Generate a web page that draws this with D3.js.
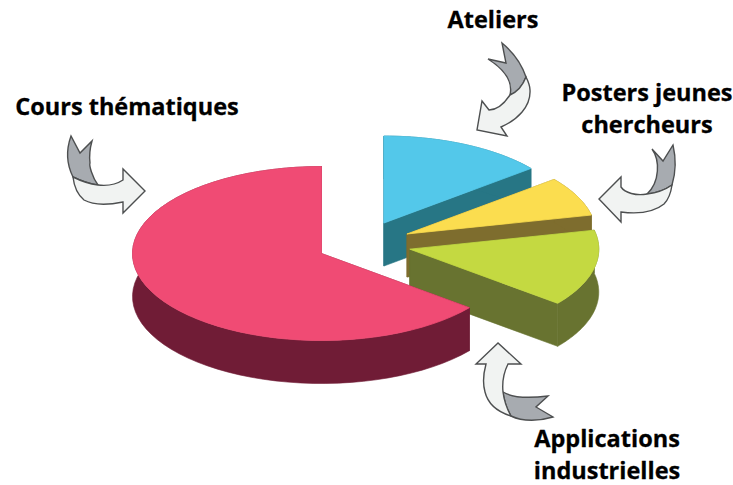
<!DOCTYPE html>
<html>
<head>
<meta charset="utf-8">
<script src="https://cdn.jsdelivr.net/npm/d3@7"></script>
<style>
  html, body { margin: 0; padding: 0; background: #fff; }
  svg { display: block; }
  .label { font-family: "Open Sans", sans-serif; font-weight: 700; font-size: 23.5px; fill: #000; stroke: #000; stroke-width: 0.3; text-anchor: middle; }
  .arrow path { stroke: #4d4f50; stroke-width: 1.4; stroke-linejoin: miter; }
</style>
</head>
<body>
<script>
// share of each slice
var categories = ["Ateliers", "Posters jeunes chercheurs", "Applications industrielles", "Cours thématiques"];
var values = [14.2, 7.3, 14.2, 64.3];

var topColors = ["#53c8ea", "#fbdd4f", "#c4d941", "#f04b74"];
var sideColors = ["#277685", "#7e6d2e", "#687330", "#701c36"];

var width = 733, height = 485;
var rx = 189, ry = 87, depth = 43;

// slice apex, in pie units (1 = radius) away from the pink slice's apex
var explode = [[0.33, -0.35], [0.452, -0.224], [0.467, -0.05], [0, 0]];

var x = d3.scaleLinear().domain([0, 1]).range([321.5, 321.5 + rx]);
var y = d3.scaleLinear().domain([0, 1]).range([253.5, 253.5 + ry]);

var svg = d3.select("body").append("svg")
    .attr("width", width)
    .attr("height", height);

var pie = d3.pie().sort(null);
var line = d3.line();

function drawSlice(d, i) {
    var off = explode[i];
    var steps = d3.range(0, 61).map(function(k) {
        return d.startAngle + (d.endAngle - d.startAngle) * k / 60;
    });

    function pt(a, r, drop) {
        return [
            x(off[0] + r * Math.sin(a)),
            y(off[1] - r * Math.cos(a)) + drop
        ];
    }

    var rimTop = steps.map(function(a) { return pt(a, 1, 0); });
    var rimLow = steps.map(function(a) { return pt(a, 1, depth); }).reverse();
    var g = svg.append("g").attr("class", "slice");

    // walls first, the top face hides what is behind it
    [d.startAngle, d.endAngle].forEach(function(a) {
        g.append("path")
            .attr("d", line([pt(a, 0, 0), pt(a, 1, 0), pt(a, 1, depth), pt(a, 0, depth)]) + "Z")
            .attr("fill", sideColors[i])
            .attr("stroke", sideColors[i])
            .attr("stroke-width", 0.6);
    });
    g.append("path")
        .attr("d", line(rimTop.concat(rimLow)) + "Z")
        .attr("fill", sideColors[i])
        .attr("stroke", sideColors[i])
        .attr("stroke-width", 0.6);
    g.append("path")
        .attr("d", line([pt(0, 0, 0)].concat(rimTop)) + "Z")
        .attr("fill", topColors[i])
        .attr("stroke", topColors[i])
        .attr("stroke-width", 0.8);
}

pie(values).forEach(drawSlice);

// hand traced arrows: [grey tail, light body]
var arrows = [
    ["M488,59 C499,66 514,78 510,95 C517,92 523,85 526,77 C522,65 513,52 502,43 L506,63 Z",
     "M510,95 C504,104 497,110 489,110 L482,101 L477,130 L507,136 L501,127 C517,120 531,107 530,90 C530,85 528,81 526,77 C523,85 517,92 510,95 Z"],
    ["M652,149 C660,160 660,182 647,194 C656,193 665,190 672,185 C676,172 676,158 673,145 L663,161 Z",
     "M647,194 C636,196 625,193 621,187 L621,177 L599,199 L621,222 L621,212 C637,214 653,213 664,204 C669,199 671,192 672,185 C665,190 656,193 647,194 Z"],
    ["M71,136 C66,150 67,165 73,177 C81,181 90,184 98,185 C92,177 89,165 90,163 C89,155 90,148 92,141 L80,153 Z",
     "M98,185 C107,186 117,184 123,180 L123,169 L145,191 L123,213 L123,202 C108,205 93,205 84,200 C78,195 74,186 73,177 C81,181 90,184 98,185 Z"],
    ["M503,392 C511,397 523,399 548,396 L536,407 L553,417 C540,421 523,422 511,416 C507,409 504,400 503,392 Z",
     "M498,343 L476,364 L486,364 C483,375 483,385 485,392 C488,404 498,412 511,416 C507,409 504,400 503,392 C502,382 504,372 508,364 L521,364 Z"]
];

var arrow = svg.selectAll("g.arrow")
    .data(arrows)
    .enter().append("g")
    .attr("class", "arrow");

arrow.append("path").attr("d", function(d) { return d[0]; }).attr("fill", "#a7abb0");
arrow.append("path").attr("d", function(d) { return d[1]; }).attr("fill", "#f1f3f2");

var labelLines = [["Ateliers"], ["Posters jeunes", "chercheurs"], ["Applications", "industrielles"], ["Cours thématiques"]];
var labelPos = [[493, 28], [647, 101], [607, 447], [127, 115]];

labelLines.forEach(function(lines, i) {
    lines.forEach(function(t, k) {
        svg.append("text")
            .attr("class", "label")
            .attr("x", labelPos[i][0])
            .attr("y", labelPos[i][1] + k * 32)
            .text(t);
    });
});
</script>
</body>
</html>
